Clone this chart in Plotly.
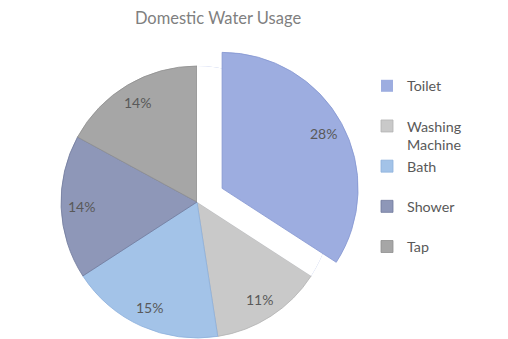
import math
import plotly.graph_objects as go

# ---- data ----
categories = ["Toilet", "Washing Machine", "Bath", "Shower", "Tap"]
values = [28, 11, 15, 14, 14]
legend_labels = ["Toilet", "Washing<br>Machine", "Bath", "Shower", "Tap"]
slice_colors = ["#9dade0", "#c9c9c9", "#a3c3e8", "#8e97b8", "#a6a6a6"]
edge_colors = ["#8496d0", "#b3b3b3", "#8db0dc", "#707a9c", "#8f8f8f"]
exploded = "Toilet"
pull_frac = 0.21
title_text = "Domestic Water Usage"

# ---- layout geometry ----
W, H = 508, 339
cx, cy, r = 197, 202, 136
label_frac = 0.85
FONT = "Lato, 'Open Sans', sans-serif"
TXT = "#595959"

total = sum(values)
ei = categories.index(exploded)
# legend entries padded to two lines so every entry has the same height
disp = [l if "<br>" in l else l + "<br> " for l in legend_labels]
texts = [f"{v}%" for v in values]


def dom(x0, y0):
    return dict(x=[(x0 - r) / W, (x0 + r) / W],
                y=[(H - y0 - r) / H, (H - y0 + r) / H])


common = dict(sort=False, direction="clockwise", rotation=0,
              textinfo="none", hoverinfo="skip")

fig = go.Figure()

# main pie (legend source); exploded slice gets no edge
fig.add_trace(go.Pie(
    labels=disp, values=values,
    marker=dict(colors=slice_colors,
                line=dict(color=edge_colors,
                          width=[0 if i == ei else 0.8 for i in range(len(values))])),
    domain=dom(cx, cy), showlegend=True, **common))

# cover the exploded slice's original position
rest = total - values[ei]
fig.add_trace(go.Pie(
    labels=["cover", "rest"], values=[values[ei], rest],
    marker=dict(colors=["white", "rgba(0,0,0,0)"], line=dict(width=0)),
    domain=dom(cx, cy), showlegend=False, **common))

# exploded slice, offset along its bisector
mid = math.radians(180 * values[ei] / total)
off = pull_frac * r
ex, ey = cx + off * math.sin(mid), cy - off * math.cos(mid)
fig.add_trace(go.Pie(
    labels=[exploded + " ", "rest "], values=[values[ei], rest],
    marker=dict(colors=[slice_colors[ei], "rgba(0,0,0,0)"],
                line=dict(color=[edge_colors[ei], "rgba(0,0,0,0)"], width=[0.8, 0])),
    domain=dom(ex, ey), showlegend=False, **common))

# data labels placed along each slice's bisector
annotations = []
cum = 0
for i, v in enumerate(values):
    a = math.radians(360 * (cum + v / 2) / total)
    cum += v
    ox, oy = (ex, ey) if i == ei else (cx, cy)
    px = ox + label_frac * r * math.sin(a)
    py = oy - label_frac * r * math.cos(a)
    annotations.append(dict(x=px / W, y=1 - py / H, xref="paper", yref="paper",
                            text=texts[i], showarrow=False,
                            xanchor="center", yanchor="middle",
                            font=dict(family=FONT, size=14, color=TXT)))

fig.update_layout(
    width=W, height=H,
    margin=dict(l=0, r=0, t=0, b=0),
    paper_bgcolor="white",
    font=dict(family=FONT, color=TXT),
    title=dict(text=title_text, x=218 / W, xanchor="center",
               y=1 - 18 / H, yanchor="middle",
               font=dict(family=FONT, size=16.5, color="#7f7f7f")),
    legend=dict(x=367 / W, xanchor="left", y=1 - 70 / H, yanchor="top",
                valign="top", font=dict(family=FONT, size=14.3, color=TXT),
                bgcolor="rgba(0,0,0,0)", traceorder="normal"),
    annotations=annotations,
)

fig.write_html("out.html", config={"displayModeBar": False},
               post_script="document.body.style.margin='0px';")
